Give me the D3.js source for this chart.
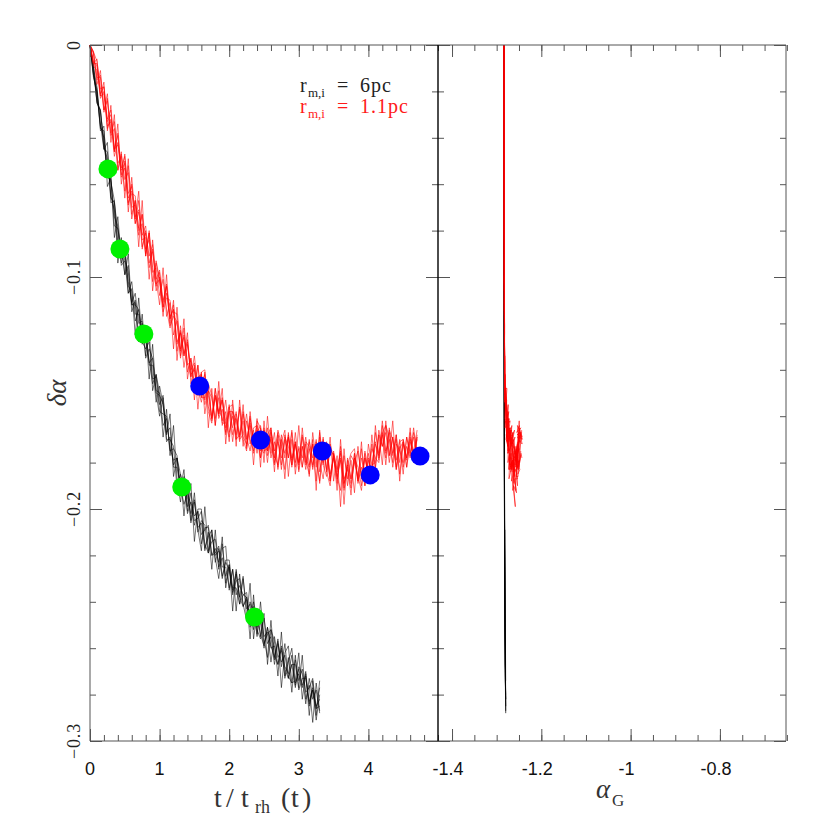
<!DOCTYPE html>
<html><head><meta charset="utf-8">
<script src="https://cdn.jsdelivr.net/npm/d3@7"></script>
<style>body{margin:0;background:#fff}svg{display:block}</style>
</head><body>
<svg id="c" width="830" height="830"></svg>
<script>
// ---------------- data ----------------
const timeStep = 0.05;          // sampling of the runs in t/t_rh(t)
// delta alpha of the r_m,i = 6pc runs (black)
const blackRuns = [
 [0,-.009,-.025,-.028,-.044,-.049,-.066,-.068,-.080,-.094,-.088,-.104,-.106,-.119,-.114,-.124,-.122,-.138,-.138,-.154,-.147,-.155,-.167,-.165,-.182,-.182,-.191,-.183,-.202,-.197,-.203,-.201,-.215,-.208,-.208,-.220,-.217,-.223,-.215,-.232,-.225,-.236,-.231,-.230,-.241,-.248,-.240,-.245,-.254,-.244,-.255,-.253,-.266,-.255,-.264,-.261,-.272,-.266,-.260,-.275,-.271,-.277,-.270,-.285,-.278,-.291,-.280],
 [0,-.014,-.020,-.036,-.037,-.054,-.057,-.078,-.079,-.088,-.099,-.095,-.112,-.111,-.125,-.120,-.124,-.136,-.146,-.142,-.155,-.151,-.170,-.170,-.173,-.191,-.185,-.190,-.201,-.193,-.205,-.204,-.201,-.215,-.219,-.211,-.220,-.218,-.230,-.222,-.222,-.234,-.234,-.241,-.230,-.243,-.241,-.252,-.245,-.249,-.260,-.251,-.259,-.264,-.257,-.268,-.258,-.273,-.267,-.277,-.268,-.271,-.284,-.273,-.282,-.278,-.288],
 [0,-.010,-.018,-.034,-.045,-.046,-.065,-.071,-.087,-.085,-.093,-.107,-.102,-.116,-.116,-.128,-.131,-.128,-.144,-.143,-.158,-.159,-.160,-.175,-.174,-.177,-.193,-.194,-.192,-.206,-.197,-.208,-.206,-.217,-.212,-.209,-.223,-.217,-.225,-.225,-.234,-.226,-.237,-.233,-.237,-.236,-.250,-.242,-.252,-.256,-.247,-.258,-.255,-.267,-.258,-.266,-.263,-.272,-.275,-.265,-.274,-.269,-.279,-.277,-.273,-.286,-.285],
 [0,-.012,-.024,-.029,-.041,-.056,-.059,-.067,-.085,-.091,-.090,-.102,-.111,-.107,-.120,-.119,-.135,-.131,-.135,-.149,-.150,-.164,-.161,-.174,-.179,-.178,-.194,-.188,-.195,-.202,-.196,-.210,-.205,-.207,-.219,-.214,-.213,-.225,-.221,-.229,-.224,-.237,-.228,-.238,-.242,-.238,-.249,-.240,-.251,-.247,-.258,-.254,-.252,-.263,-.267,-.260,-.268,-.271,-.263,-.276,-.269,-.276,-.272,-.283,-.277,-.286,-.277],
 [0,-.013,-.021,-.035,-.040,-.057,-.058,-.074,-.078,-.095,-.093,-.098,-.112,-.112,-.114,-.129,-.127,-.137,-.135,-.150,-.151,-.155,-.171,-.169,-.181,-.178,-.190,-.198,-.193,-.198,-.207,-.201,-.211,-.209,-.207,-.220,-.219,-.216,-.229,-.223,-.226,-.235,-.227,-.241,-.237,-.238,-.251,-.244,-.245,-.254,-.259,-.251,-.260,-.259,-.267,-.259,-.269,-.273,-.267,-.267,-.278,-.273,-.273,-.284,-.278,-.285,-.282],
 [0,-.009,-.025,-.028,-.045,-.042,-.068,-.067,-.094,-.083,-.099,-.090,-.115,-.110,-.128,-.116,-.134,-.122,-.149,-.142,-.150,-.169,-.157,-.177,-.164,-.187,-.197,-.186,-.199,-.189,-.214,-.200,-.200,-.218,-.210,-.226,-.209,-.226,-.212,-.234,-.224,-.244,-.226,-.238,-.229,-.247,-.232,-.256,-.244,-.255,-.245,-.267,-.252,-.257,-.272,-.253,-.273,-.264,-.279,-.263,-.277,-.263,-.282,-.276,-.292,-.275,-.287],
 [0,-.013,-.019,-.037,-.035,-.061,-.057,-.083,-.074,-.092,-.085,-.107,-.105,-.125,-.109,-.128,-.122,-.144,-.129,-.150,-.160,-.152,-.168,-.159,-.186,-.178,-.185,-.203,-.188,-.205,-.193,-.209,-.218,-.199,-.218,-.209,-.221,-.230,-.217,-.216,-.235,-.226,-.244,-.228,-.242,-.239,-.256,-.237,-.255,-.240,-.256,-.264,-.248,-.265,-.256,-.277,-.262,-.259,-.275,-.274,-.262,-.282,-.271,-.289,-.274,-.289,-.274]
];
// delta alpha of the r_m,i = 1.1pc runs (red)
const redRuns = [
 [0,-.004,-.015,-.013,-.028,-.024,-.038,-.033,-.051,-.048,-.063,-.052,-.070,-.069,-.082,-.073,-.088,-.084,-.102,-.094,-.102,-.113,-.103,-.118,-.114,-.132,-.123,-.133,-.128,-.143,-.139,-.151,-.146,-.142,-.156,-.161,-.151,-.158,-.153,-.168,-.158,-.158,-.170,-.156,-.169,-.172,-.161,-.171,-.166,-.178,-.165,-.175,-.170,-.180,-.168,-.173,-.183,-.169,-.179,-.172,-.181,-.168,-.178,-.182,-.172,-.188,-.169,-.180,-.173,-.185,-.178,-.189,-.173,-.187,-.183,-.191,-.178,-.187,-.174,-.188,-.179,-.184,-.167,-.176,-.168,-.178,-.167,-.176,-.170,-.185,-.172,-.178,-.167,-.178,-.170],
 [0,-.008,-.008,-.021,-.018,-.035,-.033,-.048,-.042,-.053,-.048,-.066,-.063,-.077,-.067,-.084,-.083,-.096,-.089,-.101,-.097,-.115,-.109,-.110,-.125,-.119,-.134,-.122,-.138,-.136,-.147,-.138,-.152,-.152,-.146,-.151,-.164,-.152,-.162,-.153,-.167,-.160,-.168,-.157,-.173,-.162,-.170,-.175,-.161,-.173,-.176,-.168,-.165,-.181,-.171,-.178,-.168,-.178,-.167,-.185,-.173,-.178,-.169,-.181,-.172,-.182,-.167,-.181,-.186,-.174,-.177,-.187,-.178,-.198,-.178,-.187,-.176,-.189,-.182,-.190,-.172,-.181,-.180,-.166,-.173,-.167,-.180,-.169,-.179,-.170,-.182,-.173,-.178,-.167,-.175],
 [0,-.003,-.014,-.014,-.029,-.023,-.039,-.036,-.054,-.047,-.058,-.055,-.075,-.067,-.079,-.073,-.090,-.081,-.096,-.104,-.098,-.110,-.104,-.121,-.117,-.119,-.135,-.125,-.137,-.143,-.134,-.148,-.154,-.146,-.151,-.161,-.151,-.160,-.153,-.162,-.169,-.158,-.162,-.171,-.159,-.170,-.163,-.176,-.167,-.164,-.175,-.174,-.165,-.178,-.170,-.183,-.169,-.173,-.181,-.167,-.180,-.173,-.183,-.171,-.178,-.170,-.184,-.173,-.176,-.188,-.175,-.184,-.175,-.189,-.181,-.176,-.174,-.188,-.178,-.186,-.176,-.185,-.172,-.177,-.162,-.175,-.170,-.180,-.168,-.180,-.171,-.182,-.170,-.175,-.166],
 [0,-.007,-.009,-.023,-.020,-.033,-.030,-.045,-.039,-.057,-.053,-.069,-.060,-.074,-.071,-.087,-.081,-.091,-.086,-.103,-.101,-.113,-.107,-.118,-.112,-.128,-.124,-.139,-.129,-.140,-.137,-.149,-.141,-.159,-.149,-.152,-.161,-.149,-.163,-.163,-.155,-.168,-.161,-.169,-.158,-.169,-.175,-.165,-.164,-.175,-.168,-.180,-.167,-.175,-.167,-.181,-.170,-.178,-.166,-.180,-.174,-.182,-.171,-.173,-.183,-.172,-.180,-.187,-.174,-.187,-.176,-.186,-.192,-.177,-.187,-.177,-.180,-.186,-.192,-.178,-.184,-.172,-.182,-.168,-.173,-.164,-.177,-.169,-.182,-.171,-.170,-.178,-.169,-.179,-.169],
 [0,-.003,-.007,-.019,-.018,-.032,-.028,-.045,-.043,-.056,-.047,-.064,-.061,-.077,-.072,-.082,-.078,-.094,-.088,-.106,-.100,-.111,-.104,-.117,-.114,-.129,-.124,-.134,-.127,-.142,-.140,-.151,-.142,-.153,-.147,-.162,-.152,-.159,-.152,-.165,-.158,-.171,-.159,-.168,-.162,-.173,-.160,-.172,-.168,-.178,-.166,-.175,-.166,-.177,-.181,-.170,-.176,-.169,-.182,-.172,-.180,-.169,-.181,-.174,-.182,-.171,-.179,-.169,-.184,-.190,-.176,-.183,-.176,-.192,-.181,-.189,-.180,-.175,-.186,-.178,-.186,-.174,-.178,-.180,-.167,-.164,-.169,-.182,-.172,-.175,-.180,-.169,-.176,-.169,-.178],
 [0,-.009,-.011,-.022,-.021,-.036,-.032,-.046,-.038,-.054,-.051,-.068,-.064,-.065,-.080,-.077,-.091,-.080,-.098,-.096,-.108,-.101,-.114,-.122,-.115,-.116,-.131,-.126,-.141,-.135,-.146,-.143,-.142,-.155,-.149,-.160,-.148,-.161,-.157,-.167,-.156,-.165,-.158,-.170,-.168,-.159,-.172,-.166,-.176,-.165,-.174,-.165,-.178,-.171,-.182,-.168,-.178,-.168,-.178,-.171,-.184,-.173,-.180,-.170,-.181,-.174,-.189,-.173,-.184,-.172,-.178,-.186,-.179,-.191,-.179,-.187,-.178,-.182,-.190,-.175,-.184,-.181,-.171,-.179,-.164,-.176,-.166,-.170,-.183,-.174,-.171,-.182,-.171,-.178,-.168],
 [0,-.003,-.017,-.011,-.028,-.021,-.042,-.030,-.054,-.046,-.066,-.049,-.073,-.067,-.087,-.067,-.091,-.081,-.106,-.093,-.101,-.117,-.099,-.120,-.110,-.136,-.121,-.134,-.124,-.146,-.138,-.157,-.141,-.140,-.158,-.163,-.148,-.159,-.148,-.172,-.156,-.155,-.173,-.153,-.170,-.175,-.158,-.172,-.164,-.182,-.162,-.177,-.169,-.184,-.166,-.172,-.187,-.167,-.181,-.171,-.183,-.165,-.179,-.185,-.170,-.192,-.166,-.181,-.171,-.188,-.177,-.192,-.170,-.189,-.182,-.194,-.176,-.188,-.171,-.190,-.178,-.187,-.164,-.178,-.167,-.181,-.165,-.177,-.168,-.188,-.170,-.179,-.165,-.180,-.169],
 [0,-.008,-.006,-.022,-.016,-.037,-.026,-.046,-.034,-.060,-.050,-.072,-.057,-.075,-.063,-.088,-.080,-.101,-.084,-.101,-.112,-.096,-.117,-.111,-.131,-.113,-.132,-.118,-.144,-.135,-.153,-.138,-.152,-.141,-.165,-.148,-.164,-.145,-.164,-.158,-.171,-.153,-.170,-.168,-.155,-.174,-.164,-.181,-.162,-.165,-.180,-.160,-.176,-.167,-.183,-.171,-.166,-.186,-.170,-.182,-.164,-.182,-.172,-.186,-.167,-.179,-.188,-.170,-.183,-.169,-.188,-.177,-.199,-.174,-.190,-.179,-.193,-.173,-.187,-.176,-.187,-.168,-.183,-.168,-.181,-.162,-.177,-.162,-.183,-.173,-.185,-.169,-.177,-.165,-.177]
];
// alpha_G of the black runs, every 0.3 in t (right panel)
const blackAlphaG = [
 [-1.2838,-1.2836,-1.2833,-1.2831,-1.2828,-1.2825,-1.2822,-1.2818,-1.2814,-1.2810,-1.2805,-1.2800],
 [-1.2836,-1.2835,-1.2831,-1.2830,-1.2826,-1.2824,-1.2820,-1.2817,-1.2812,-1.2808,-1.2803,-1.2797],
 [-1.2837,-1.2834,-1.2832,-1.2829,-1.2827,-1.2823,-1.2821,-1.2816,-1.2813,-1.2807,-1.2804,-1.2796],
 [-1.2839,-1.2837,-1.2834,-1.2832,-1.2829,-1.2826,-1.2823,-1.2819,-1.2815,-1.2811,-1.2806,-1.2802],
 [-1.2835,-1.2834,-1.2830,-1.2828,-1.2825,-1.2822,-1.2819,-1.2815,-1.2811,-1.2806,-1.2801,-1.2794],
 [-1.2837,-1.2835,-1.2833,-1.2830,-1.2828,-1.2824,-1.2821,-1.2817,-1.2813,-1.2809,-1.2804,-1.2798],
 [-1.2836,-1.2836,-1.2832,-1.2831,-1.2827,-1.2825,-1.2820,-1.2818,-1.2812,-1.2810,-1.2802,-1.2799]
];
// alpha_G of the red runs, every 0.1 in t (right panel)
const redAlphaG = [
 [-1.2835,-1.2834,-1.2835,-1.2833,-1.2834,-1.2832,-1.2833,-1.2831,-1.2832,-1.2829,-1.2830,-1.2827,-1.2827,-1.2823,-1.2824,-1.2818,-1.2817,-1.2800,-1.2815,-1.2775,-1.2790,-1.2745,-1.2780,-1.2720,-1.2760,-1.2690,-1.2735,-1.2660,-1.2710,-1.2640,-1.2690,-1.2610,-1.2660,-1.2590,-1.2630,-1.2560,-1.2610,-1.2520,-1.2580,-1.2500,-1.2560,-1.2470,-1.2540,-1.2450,-1.2510,-1.2430,-1.2480,-1.2420],
 [-1.2836,-1.2835,-1.2833,-1.2834,-1.2832,-1.2833,-1.2831,-1.2832,-1.2830,-1.2831,-1.2828,-1.2829,-1.2825,-1.2826,-1.2821,-1.2822,-1.2813,-1.2820,-1.2790,-1.2805,-1.2765,-1.2785,-1.2750,-1.2770,-1.2735,-1.2745,-1.2700,-1.2725,-1.2685,-1.2700,-1.2655,-1.2680,-1.2640,-1.2650,-1.2605,-1.2625,-1.2585,-1.2600,-1.2560,-1.2575,-1.2530,-1.2545,-1.2515,-1.2525,-1.2490,-1.2505,-1.2470,-1.2460],
 [-1.2834,-1.2836,-1.2834,-1.2835,-1.2833,-1.2834,-1.2832,-1.2833,-1.2830,-1.2832,-1.2829,-1.2830,-1.2826,-1.2827,-1.2823,-1.2820,-1.2818,-1.2805,-1.2800,-1.2785,-1.2770,-1.2775,-1.2755,-1.2760,-1.2730,-1.2725,-1.2715,-1.2690,-1.2695,-1.2670,-1.2665,-1.2650,-1.2625,-1.2630,-1.2600,-1.2590,-1.2575,-1.2555,-1.2560,-1.2530,-1.2525,-1.2510,-1.2495,-1.2500,-1.2475,-1.2465,-1.2450,-1.2440],
 [-1.2835,-1.2833,-1.2835,-1.2832,-1.2834,-1.2831,-1.2833,-1.2830,-1.2832,-1.2828,-1.2830,-1.2826,-1.2828,-1.2822,-1.2825,-1.2817,-1.2819,-1.2795,-1.2810,-1.2780,-1.2795,-1.2760,-1.2775,-1.2745,-1.2765,-1.2715,-1.2740,-1.2700,-1.2720,-1.2675,-1.2700,-1.2660,-1.2675,-1.2630,-1.2655,-1.2610,-1.2640,-1.2590,-1.2620,-1.2570,-1.2595,-1.2545,-1.2570,-1.2525,-1.2550,-1.2505,-1.2530,-1.2490],
 [-1.2836,-1.2834,-1.2836,-1.2833,-1.2835,-1.2832,-1.2834,-1.2831,-1.2833,-1.2829,-1.2831,-1.2827,-1.2829,-1.2824,-1.2826,-1.2819,-1.2816,-1.2810,-1.2785,-1.2795,-1.2760,-1.2780,-1.2740,-1.2755,-1.2720,-1.2735,-1.2695,-1.2710,-1.2675,-1.2690,-1.2645,-1.2665,-1.2620,-1.2640,-1.2595,-1.2615,-1.2570,-1.2590,-1.2545,-1.2565,-1.2520,-1.2540,-1.2500,-1.2520,-1.2475,-1.2495,-1.2455,-1.2435],
 [-1.2834,-1.2835,-1.2833,-1.2835,-1.2832,-1.2834,-1.2831,-1.2833,-1.2829,-1.2831,-1.2827,-1.2829,-1.2824,-1.2826,-1.2820,-1.2821,-1.2812,-1.2815,-1.2795,-1.2770,-1.2800,-1.2755,-1.2770,-1.2740,-1.2750,-1.2710,-1.2730,-1.2690,-1.2705,-1.2660,-1.2685,-1.2635,-1.2655,-1.2615,-1.2635,-1.2580,-1.2605,-1.2565,-1.2580,-1.2535,-1.2560,-1.2515,-1.2535,-1.2485,-1.2515,-1.2465,-1.2490,-1.2455],
 [-1.2835,-1.2833,-1.2836,-1.2832,-1.2835,-1.2831,-1.2834,-1.2830,-1.2833,-1.2828,-1.2831,-1.2826,-1.2829,-1.2822,-1.2826,-1.2816,-1.2820,-1.2790,-1.2810,-1.2770,-1.2800,-1.2750,-1.2785,-1.2730,-1.2770,-1.2700,-1.2745,-1.2680,-1.2725,-1.2650,-1.2700,-1.2625,-1.2680,-1.2600,-1.2650,-1.2570,-1.2625,-1.2545,-1.2600,-1.2520,-1.2575,-1.2490,-1.2550,-1.2460,-1.2525,-1.2440,-1.2500,-1.2425],
 [-1.2836,-1.2834,-1.2833,-1.2835,-1.2832,-1.2834,-1.2831,-1.2833,-1.2830,-1.2831,-1.2828,-1.2827,-1.2825,-1.2824,-1.2820,-1.2818,-1.2814,-1.2812,-1.2780,-1.2798,-1.2762,-1.2788,-1.2742,-1.2765,-1.2725,-1.2748,-1.2705,-1.2730,-1.2682,-1.2710,-1.2660,-1.2690,-1.2632,-1.2668,-1.2605,-1.2645,-1.2582,-1.2620,-1.2555,-1.2598,-1.2530,-1.2575,-1.2505,-1.2550,-1.2482,-1.2525,-1.2462,-1.2450]
];
// marker points
const greenT = [0.258, 0.43, 0.774, 1.318, 2.364];
const greenD = [-0.0534, -0.0879, -0.1246, -0.1905, -0.2466];
const blueT  = [1.576, 2.45, 3.338, 4.026, 4.742];
const blueD  = [-0.147, -0.1703, -0.175, -0.1853, -0.1772];
// axes
const leftXDomain = [0, 5];
const rightXDomain = [-1.4314, -0.652];
const yDomain = [-0.3, 0];
const leftXTicks = [0, 1, 2, 3, 4];
const leftXTickLabels = ["0", "1", "2", "3", "4"];
const rightXTicks = [-1.4, -1.2, -1, -0.8];
const rightXTickLabels = ["-1.4", "-1.2", "-1", "-0.8"];
const yTicks = [0, -0.1, -0.2, -0.3];
const yTickLabels = ["0", "\u22120.1", "\u22120.2", "\u22120.3"];
const legendLabels = ["6pc", "1.1pc"];
const legendColors = ["#222", "#ff1a1a"];

// ---------------- drawing ----------------
const L = 90, M = 438, R = 786, T = 45, B = 741;
const svg = d3.select("#c");
const xL = d3.scaleLinear().domain(leftXDomain).range([L, M]);
const xR = d3.scaleLinear().domain(rightXDomain).range([M, R]);
const y = d3.scaleLinear().domain(yDomain).range([B, T]);

const lineL = d3.line().x(d => xL(d[0])).y(d => y(d[1]));
const lineR = d3.line().x(d => xR(d[0])).y(d => y(d[1]));

const runPts = run => run.map((v, i) => [i * timeStep, v]);

svg.append("g").selectAll("path").data(blackRuns).join("path")
  .attr("d", r => lineL(runPts(r))).attr("fill", "none")
  .attr("stroke", "#000").attr("stroke-width", 0.55).attr("stroke-linejoin", "round");
svg.append("g").selectAll("path").data(redRuns).join("path")
  .attr("d", r => lineL(runPts(r))).attr("fill", "none")
  .attr("stroke", "#ff0000").attr("stroke-width", 0.55).attr("stroke-linejoin", "round");

svg.append("g").selectAll("path").data(blackAlphaG).join("path")
  .attr("d", (a, ri) => lineR(a.map((v, k) => [v, blackRuns[ri][Math.min(6 * k, blackRuns[ri].length - 1)]])))
  .attr("fill", "none").attr("stroke", "#000").attr("stroke-width", 0.7);
svg.append("g").selectAll("path").data(redAlphaG).join("path")
  .attr("d", (a, ri) => lineR(a.map((v, k) => [v, redRuns[ri][2 * k]])))
  .attr("fill", "none").attr("stroke", "#ff0000").attr("stroke-width", 0.6);

svg.append("g").selectAll("circle").data(greenT).join("circle")
  .attr("cx", d => xL(d)).attr("cy", (d, i) => y(greenD[i])).attr("r", 9.5).attr("fill", "#00f000");
svg.append("g").selectAll("circle").data(blueT).join("circle")
  .attr("cx", d => xL(d)).attr("cy", (d, i) => y(blueD[i])).attr("r", 9.5).attr("fill", "#0000ff");

// ticks
const axisColor = "#555";
function ticks(axis, tr) {
  const g = svg.append("g").attr("transform", tr).call(axis);
  g.select(".domain").remove();
  g.selectAll(".tick line").attr("stroke", axisColor).attr("stroke-width", 1);
  g.selectAll(".tick text").remove();
}
const maj = 12, mnr = 6;
const xLMinor = d3.range(0, 5.0001, 0.2);
const xRMinor = d3.range(-1.4, -0.649, 0.05);
const yMinor = d3.range(-0.3, 0.0001, 0.02);
[[d3.axisBottom, B], [d3.axisTop, T]].forEach(([ax, pos]) => {
  ticks(ax(xL).tickValues(xLMinor).tickSize(-mnr).tickSizeOuter(0), `translate(0,${pos})`);
  ticks(ax(xL).tickValues(leftXTicks).tickSize(-maj).tickSizeOuter(0), `translate(0,${pos})`);
  ticks(ax(xR).tickValues(xRMinor).tickSize(-mnr).tickSizeOuter(0), `translate(0,${pos})`);
  ticks(ax(xR).tickValues(rightXTicks).tickSize(-maj).tickSizeOuter(0), `translate(0,${pos})`);
});
[[d3.axisLeft, L], [d3.axisRight, M], [d3.axisLeft, M], [d3.axisRight, R]].forEach(([ax, pos]) => {
  ticks(ax(y).tickValues(yMinor).tickSize(-mnr).tickSizeOuter(0), `translate(${pos},0)`);
  ticks(ax(y).tickValues(yTicks).tickSize(-maj).tickSizeOuter(0), `translate(${pos},0)`);
});

// frame
const frame = svg.append("g").attr("fill", "none");
frame.append("path").attr("d", `M${M},${T}H${L}V${B}H${M}M${M},${T}H${R}V${B}H${M}`)
  .attr("stroke", axisColor).attr("stroke-width", 1);
frame.append("line").attr("x1", M).attr("x2", M).attr("y1", T).attr("y2", B)
  .attr("stroke", "#000").attr("stroke-width", 1.4);

// tick labels
const sans = "'Liberation Sans', Arial, sans-serif";
const serif = "'Liberation Serif', 'DejaVu Serif', serif";
svg.append("g").selectAll("text").data(leftXTicks).join("text")
  .attr("x", d => xL(d)).attr("y", 775).attr("text-anchor", "middle")
  .attr("font-family", sans).attr("font-size", 18).attr("fill", "#111")
  .text((d, i) => leftXTickLabels[i]);
svg.append("g").selectAll("text").data(rightXTicks).join("text")
  .attr("x", d => xR(d) - 4).attr("y", 775).attr("text-anchor", "middle")
  .attr("font-family", sans).attr("font-size", 18).attr("fill", "#111")
  .text((d, i) => rightXTickLabels[i]);
svg.append("g").selectAll("text").data(yTicks).join("text")
  .attr("transform", d => `translate(80,${y(d)}) rotate(-90)`).attr("text-anchor", "middle")
  .attr("font-family", serif).attr("font-size", 18).attr("letter-spacing", 0.8).attr("fill", "#222")
  .text((d, i) => yTickLabels[i]);

// axis titles
const xt = svg.append("text").attr("y", 807).attr("font-family", serif).attr("font-size", 28).attr("fill", "#333");
xt.append("tspan").attr("x", "214 226 241").text("t/t");
xt.append("tspan").attr("x", 255).attr("dy", 6).attr("font-size", 18).text("rh");
xt.append("tspan").attr("x", "281 291 302").attr("dy", -6).text("(t)");

const at = svg.append("text").attr("y", 798).attr("font-family", serif).attr("fill", "#333");
at.append("tspan").attr("x", 596).attr("font-size", 27).attr("font-style", "italic").text("α");
at.append("tspan").attr("x", 612).attr("dy", 8).attr("font-size", 17).text("G");

svg.append("text").attr("transform", "translate(66,393) rotate(-90)").attr("text-anchor", "middle")
  .attr("font-family", serif).attr("font-size", 27).attr("font-style", "italic").attr("fill", "#333")
  .text("δα");

// legend
legendLabels.forEach((lab, i) => {
  const ty = 92 + i * 21;
  const t = svg.append("text").attr("y", ty).attr("font-family", serif).attr("font-size", 20).attr("fill", legendColors[i]);
  t.append("tspan").attr("x", 300).text("r");
  t.append("tspan").attr("x", 308).attr("dy", 5).attr("font-size", 13).text("m,i");
  t.append("tspan").attr("x", 337).attr("dy", -5).text("=");
  t.append("tspan").attr("x", 360).attr("letter-spacing", 1).text(lab);
});
</script>
</body></html>
